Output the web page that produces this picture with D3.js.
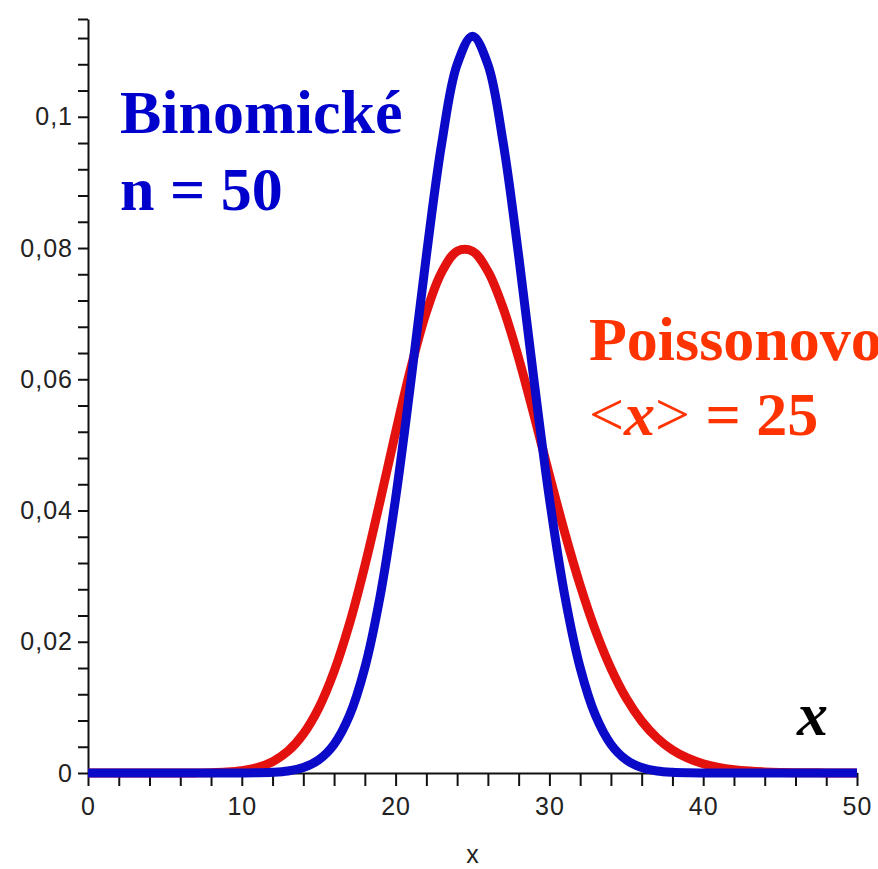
<!DOCTYPE html>
<meta charset="utf-8">
<style>
    body { margin: 0; background: #fff; }
    .tick text { font-family: "Liberation Sans", Arial, sans-serif; font-size: 25px; fill: #222; letter-spacing: 1px; }
    .domain, .tick line { stroke: #111; stroke-width: 2px; }
    .curve { fill: none; stroke-width: 9px; stroke-linejoin: round; }
    .lbl { font-family: "Liberation Serif", "Times New Roman", serif; font-weight: bold; font-size: 62px; }
</style>
<body>
<script src="https://d3js.org/d3.v7.min.js"></script>
<script>
    // x values 0..50
    var xs = d3.range(0, 51);

    // binomicke rozdeleni, n = 50
    var binom = [0, 0, 0, 0, 0, 0, 0, 0, 0, 0,
        0.0000091, 0.0000332, 0.000108, 0.000315, 0.000833,
        0.001999, 0.004373, 0.00875, 0.01604, 0.02701,
        0.04186, 0.05980, 0.07883, 0.09596, 0.10796,
        0.11227,
        0.10796, 0.09596, 0.07883, 0.05980, 0.04186,
        0.02701, 0.01604, 0.00875, 0.004373, 0.001999,
        0.000833, 0.000315, 0.000108, 0.0000332, 0.0000091,
        0, 0, 0, 0, 0, 0, 0, 0, 0, 0];

    // Poissonovo rozdeleni, <x> = 25
    var poiss = [0, 0, 0, 0, 0, 0, 0.0000047, 0.0000169, 0.0000527, 0.000146,
        0.000365, 0.00083, 0.00173, 0.00332, 0.00594,
        0.00989, 0.01546, 0.02273, 0.03157, 0.04153,
        0.05192, 0.06180, 0.07023, 0.07634, 0.07952,
        0.07952,
        0.07646, 0.07080, 0.06321, 0.05449, 0.04541,
        0.03662, 0.02861, 0.02167, 0.01594, 0.01138,
        0.00791, 0.00534, 0.00351, 0.00225, 0.00141,
        0.00086, 0.00051, 0.000297, 0.000169, 0.0000938,
        0.000051, 0.0000271, 0.0000141, 0.0000072, 0.0000036];

    var yTicks = [0, 0.02, 0.04, 0.06, 0.08, 0.1];
    var yTickLabels = ["0", "0,02", "0,04", "0,06", "0,08", "0,1"];
    var xTicks = [0, 10, 20, 30, 40, 50];

    var width = 878, height = 869;

    var x = d3.scaleLinear().domain([0, 50]).range([88, 857]);
    var y = d3.scaleLinear().domain([0, 0.1149]).range([773, 19]);

    var svg = d3.select("body").append("svg")
        .attr("width", width)
        .attr("height", height);

    // x axis
    var xAxis = svg.append("g")
        .attr("transform", "translate(0," + y(0) + ")")
        .call(d3.axisBottom(x).tickValues(d3.range(0, 51, 2)).tickSize(13).tickSizeOuter(0)
            .tickFormat(function (d) { return xTicks.indexOf(d) >= 0 ? d : ""; }));
    xAxis.selectAll(".tick text").attr("dy", "1.05em");

    // y axis
    var yAxis = svg.append("g")
        .attr("transform", "translate(" + x(0) + ",0)")
        .call(d3.axisLeft(y).tickValues(d3.range(0, 0.1149, 0.004).concat([0.1149])).tickSize(10).tickSizeOuter(0)
            .tickFormat(function (d) {
                var i = yTicks.findIndex(function (t) { return Math.abs(t - d) < 1e-6; });
                return i >= 0 ? yTickLabels[i] : "";
            }));
    yAxis.selectAll(".tick text").attr("x", -15);

    // x label
    svg.append("text")
        .attr("x", x(25))
        .attr("y", 863)
        .attr("text-anchor", "middle")
        .style("font-family", "Liberation Sans, Arial, sans-serif")
        .style("font-size", "25px")
        .style("fill", "#222")
        .text("x");

    var line = d3.line()
        .x(function (d, i) { return x(xs[i]); })
        .y(function (d) { return Math.min(y(d), y(0)); })
        .curve(d3.curveCatmullRom.alpha(0.5));

    svg.append("path")
        .datum(poiss)
        .attr("class", "curve")
        .attr("stroke", "#e3120f")
        .attr("d", line);

    svg.append("path")
        .datum(binom)
        .attr("class", "curve")
        .attr("stroke", "#0a0ac8")
        .attr("d", line);

    // popisky
    svg.append("text").attr("class", "lbl").attr("x", 120).attr("y", 133)
        .attr("fill", "#0000cc").text("Binomické");
    svg.append("text").attr("class", "lbl").attr("x", 120).attr("y", 210)
        .attr("fill", "#0000cc").text("n = 50");

    svg.append("text").attr("class", "lbl").attr("x", 589).attr("y", 360)
        .attr("fill", "#ff3300").text("Poissonovo");
    var t2 = svg.append("text").attr("class", "lbl").attr("x", 589).attr("y", 435)
        .attr("fill", "#ff3300");
    t2.append("tspan").style("font-weight", "normal").text("<");
    t2.append("tspan").style("font-style", "italic").text("x");
    t2.append("tspan").style("font-weight", "normal").text(">");
    t2.append("tspan").text(" = 25");

    svg.append("text").attr("class", "lbl").attr("x", 797).attr("y", 735)
        .style("font-style", "italic").attr("fill", "#000").text("x");
</script>
</body>
